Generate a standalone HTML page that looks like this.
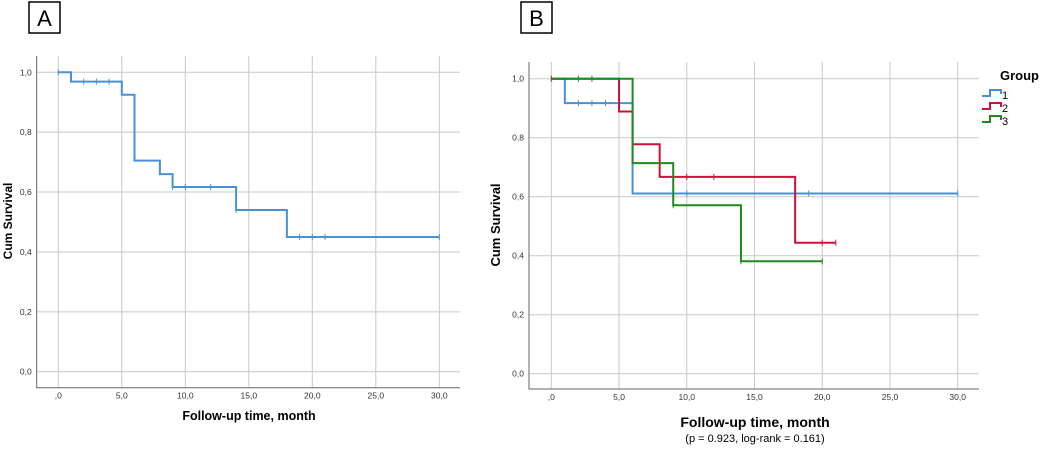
<!DOCTYPE html>
<html><head><meta charset="utf-8"><style>
body{margin:0;background:#fff;width:1052px;height:447px;overflow:hidden;font-family:"Liberation Sans",sans-serif}
</style></head><body>
<svg id="svg" width="1052" height="447" xmlns="http://www.w3.org/2000/svg"></svg>
<script>
const xTicks=[0,5,10,15,20,25,30];
const xTickLabels=[",0","5,0","10,0","15,0","20,0","25,0","30,0"];
const yTicks=[0,0.2,0.4,0.6,0.8,1.0];
const yTickLabels=["0,0","0,2","0,4","0,6","0,8","1,0"];
// Panel A
const aTimes=[0,1,5,6,8,9,14,18,30];
const aSurv=[1,0.969,0.925,0.705,0.66,0.617,0.54,0.45,0.45];
const aCensT=[0,2,3,4,9,10,12,14,19,20,21,30];
const aCensS=[1,0.969,0.969,0.969,0.617,0.617,0.617,0.54,0.45,0.45,0.45,0.45];
// Panel B
const groups=["1","2","3"];
const gColors=["#4a90d9","#d0103a","#1e8a1e"];
const g1Times=[0,1,6,30];const g1Surv=[1,0.917,0.611,0.611];
const g1CensT=[2,3,4,10,19,30];const g1CensS=[0.917,0.917,0.917,0.611,0.611,0.611];
const g2Times=[0,5,6,8,18,21];const g2Surv=[1,0.889,0.778,0.667,0.444,0.444];
const g2CensT=[0,3,10,12,20,21];const g2CensS=[1,1,0.667,0.667,0.444,0.444];
const g3Times=[0,6,9,14,20];const g3Surv=[1,0.714,0.571,0.381,0.381];
const g3CensT=[2,9,14,20];const g3CensS=[1,0.571,0.381,0.381];

const svg=document.getElementById('svg');
const NS='http://www.w3.org/2000/svg';
function mk(tag,attrs,parent){const e=document.createElementNS(NS,tag);for(const k in attrs)e.setAttribute(k,attrs[k]);(parent||svg).appendChild(e);return e;}

function panel(p){
  const g=mk('g',{});
  
  
  const X=t=>p.x0+(p.x30-p.x0)*t/30, Y=s=>p.y0+(p.y1-p.y0)*s;
  const b=mk('rect',{x:p.bx,y:2,width:31,height:31,fill:'none',stroke:'#000','stroke-width':1.5},g);
  
  const bt=mk('text',{x:p.bx+15.5,y:26,'text-anchor':'middle','font-size':22,fill:'#000'},g);bt.textContent=p.id;
  
  yTicks.forEach((v,i)=>{
    const l=mk('line',{x1:p.fl,x2:p.fr,y1:Y(v),y2:Y(v),stroke:'#c8c8c8','stroke-width':1},g);
    
    const t=mk('text',{x:p.fl-5,y:Y(v)+3,'text-anchor':'end','font-size':8.5,fill:'#333'},g);t.textContent=yTickLabels[i];
    
  });
  xTicks.forEach((v,i)=>{
    const l=mk('line',{x1:X(v),x2:X(v),y1:p.ft,y2:p.fb,stroke:'#c8c8c8','stroke-width':1},g);
    
    const t=mk('text',{x:X(v),y:p.fb+11,'text-anchor':'middle','font-size':8.5,fill:'#333'},g);t.textContent=xTickLabels[i];
    
  });
  const ax=mk('path',{d:`M${p.fl},${p.ft}V${p.fb}H${p.fr}`,fill:'none',stroke:'#666','stroke-width':1},g);
  
  const xt=mk('text',{x:p.xtc,y:p.xty,'text-anchor':'middle','font-size':p.xts,'font-weight':'bold',fill:'#000'},g);
  xt.textContent='Follow-up time, month';
  const yt=mk('text',{x:0,y:0,transform:`translate(${p.ytx},${p.ytc}) rotate(-90)`,'text-anchor':'middle','font-size':p.yts,'font-weight':'bold',fill:'#000'},g);
  yt.textContent='Cum Survival';
  return {g,X,Y};
}
function curve(pp,times,surv,ct,cs,color,name){
  let d=`M${pp.X(times[0])},${pp.Y(surv[0])}`;
  for(let i=1;i<times.length;i++){d+=`H${pp.X(times[i])}`;if(i<times.length-1||surv[i]!==surv[i-1])d+=`V${pp.Y(surv[i])}`;}
  const c=mk('path',{d,fill:'none',stroke:color,'stroke-width':2},pp.g);
  
  ct.forEach((t,i)=>{
    const m=mk('line',{x1:pp.X(t),x2:pp.X(t),y1:pp.Y(cs[i])-3,y2:pp.Y(cs[i])+3,stroke:color,'stroke-width':1},pp.g);
    
  });
}
const A=panel({id:'A',bx:29,x0:58.3,x30:439.3,y0:371.7,y1:72.3,fl:36.7,fr:460,ft:56,fb:387.7,xtc:249,xty:420,xts:12.5,ytx:12,ytc:221,yts:12});
curve(A,aTimes,aSurv,aCensT,aCensS,'#4a90d9','survival-curve');
const B=panel({id:'B',bx:521,x0:551.3,x30:957.7,y0:373.7,y1:78.7,fl:529,fr:979,ft:62,fb:389,xtc:755,xty:427,xts:14,ytx:500,ytc:225,yts:13});
curve(B,g1Times,g1Surv,g1CensT,g1CensS,gColors[0],'group-1-curve');
curve(B,g2Times,g2Surv,g2CensT,g2CensS,gColors[1],'group-2-curve');
curve(B,g3Times,g3Surv,g3CensT,g3CensS,gColors[2],'group-3-curve');
const fn=mk('text',{x:755,y:442,'text-anchor':'middle','font-size':11,fill:'#000'});
fn.textContent='(p = 0.923, log-rank = 0.161)';
const lt=mk('text',{x:1000,y:80,'font-size':13,'font-weight':'bold',fill:'#000'});
lt.textContent='Group';
groups.forEach((gname,i)=>{
  const y=96+i*13;
  const lg=mk('g',{});
  
  mk('path',{d:`M982,${y}H990V${y-6}H1001V${y-2}`,fill:'none',stroke:gColors[i],'stroke-width':2},lg);
  const t=mk('text',{x:1002,y:y+3,'font-size':11,fill:'#000'},lg);t.textContent=gname;
});
</script>
</body></html>
